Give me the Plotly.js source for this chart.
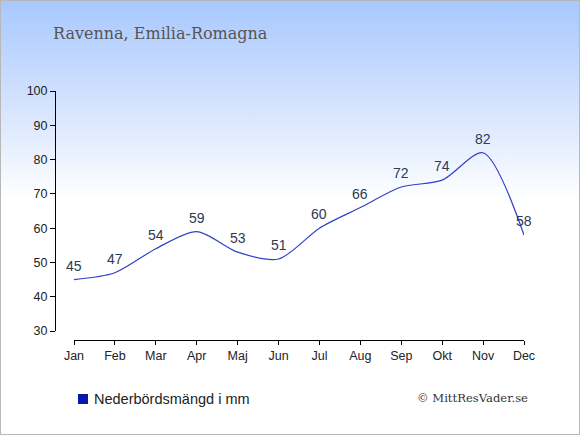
<!DOCTYPE html>
<html><head><meta charset="utf-8">
<script src="https://cdn.plot.ly/plotly-3.0.1.min.js"></script>
<style>
html,body{margin:0;padding:0;}
#wrap{width:578px;height:433px;border:1px solid #b8b8b8;background:linear-gradient(to bottom,#a8c8ff 0%,#dce8fe 28%,#ffffff 46%,#ffffff 100%);}
#chart{width:578px;height:433px;}
</style></head><body>
<div id="wrap"><div id="chart"></div></div>
<script>
const months = ["Jan","Feb","Mar","Apr","Maj","Jun","Jul","Aug","Sep","Okt","Nov","Dec"];
const precipitation = [45,47,54,59,53,51,60,66,72,74,82,58];
const yTicks = [30,40,50,60,70,80,90,100];
const seriesName = "Nederbördsmängd i mm";

const xIdx = months.map((m,i)=>i);

const trace = {
  x: xIdx,
  y: precipitation,
  type: 'scatter',
  mode: 'lines',
  line: {shape: 'spline', smoothing: 0.8, color: '#3040c8', width: 1.2},
  hoverinfo: 'none',
  showlegend: false
};

const L = 54, R = 55, T = 90, B = 94;
const plotW = 578 - L - R, plotH = 433 - T - B;

const valueLabels = precipitation.map((v,i)=>({
  x: xIdx[i], y: v, xref: 'x', yref: 'y', text: String(v),
  showarrow: false, yshift: 14, xanchor: 'center', yanchor: 'middle',
  font: {family: 'Liberation Sans, Arial, sans-serif', size: 14, color: '#2b3a55'}
}));

const layout = {
  width: 578, height: 433,
  margin: {l: L, r: R, t: T, b: B, pad: 0},
  paper_bgcolor: 'rgba(0,0,0,0)',
  plot_bgcolor: 'rgba(0,0,0,0)',
  showlegend: false,
  font: {family: 'Liberation Sans, Arial, sans-serif', size: 12, color: '#222'},
  xaxis: {
    domain: [19/plotW, 1],
    range: [0, 11],
    tickmode: 'array', tickvals: xIdx, ticktext: months,
    showline: true, linecolor: '#000', linewidth: 1,
    ticks: 'outside', ticklen: 4, tickcolor: '#000',
    showgrid: false, zeroline: false,
    anchor: 'free', position: 0,
    tickfont: {size: 12.5, color: '#222'}
  },
  yaxis: {
    domain: [9/plotH, 1],
    range: [30, 100],
    tickmode: 'array', tickvals: yTicks,
    showline: true, linecolor: '#000', linewidth: 1,
    ticks: 'outside', ticklen: 5, tickcolor: '#000',
    showgrid: false, zeroline: false,
    anchor: 'free', position: 0,
    tickfont: {size: 12.5, color: '#222'}
  },
  shapes: [{
    type: 'rect', xref: 'paper', yref: 'paper',
    x0: (77-L)/plotW, x1: (87-L)/plotW,
    y0: (T+plotH-393)/plotH, y1: (T+plotH-403)/plotH,
    fillcolor: '#0a18a8', line: {width: 0}
  }],
  annotations: valueLabels.concat([
    {text: 'Ravenna, Emilia-Romagna', xref: 'paper', yref: 'paper',
     x: (50-L)/plotW, y: (T+plotH-32)/plotH, xanchor: 'left', yanchor: 'middle',
     showarrow: false, font: {family: 'DejaVu Serif, serif', size: 16, color: '#555'}},
    {text: seriesName, xref: 'paper', yref: 'paper',
     x: (91-L)/plotW, y: (T+plotH-398)/plotH, xanchor: 'left', yanchor: 'middle',
     showarrow: false, font: {family: 'Liberation Sans, Arial, sans-serif', size: 14.5, color: '#222'}},
    {text: '© MittResVader.se', xref: 'paper', yref: 'paper',
     x: (529-L)/plotW, y: (T+plotH-397)/plotH, xanchor: 'right', yanchor: 'middle',
     showarrow: false, font: {family: 'DejaVu Serif, serif', size: 11.6, color: '#333'}}
  ])
};

Plotly.newPlot('chart', [trace], layout, {staticPlot: true, displayModeBar: false});
</script>
</body></html>
